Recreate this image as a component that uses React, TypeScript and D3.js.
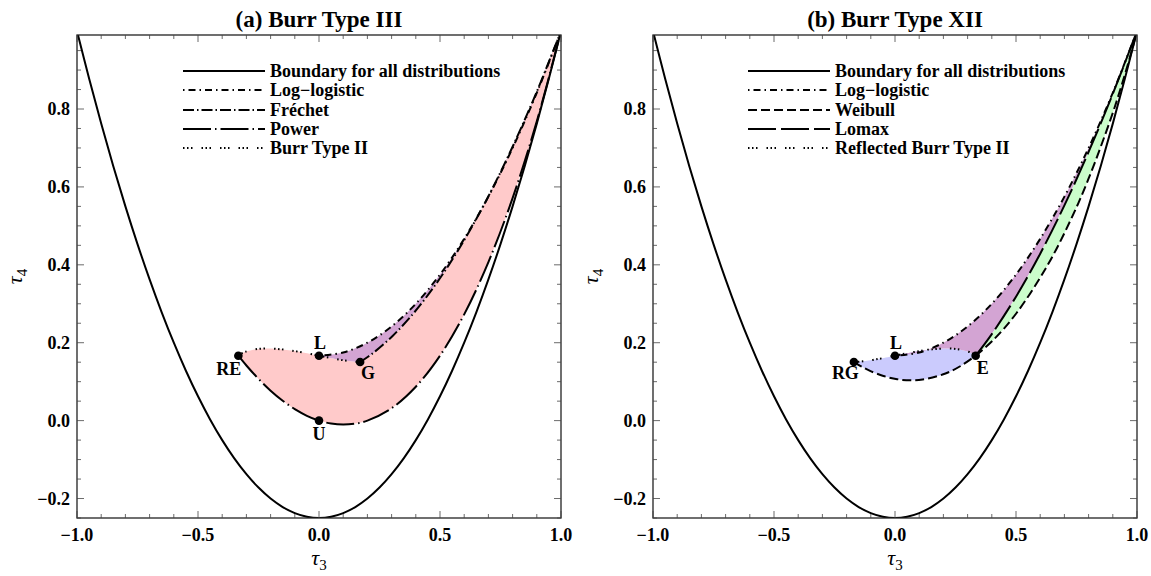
import React from "react";
import * as d3 from "d3";

// ---------- data ----------
const TAU3_TICKS = [-1, -0.5, 0, 0.5, 1];
const TAU3_TICK_LABELS = ["\u22121.0", "\u22120.5", "0.0", "0.5", "1.0"];
const TAU4_TICKS = [-0.2, 0, 0.2, 0.4, 0.6, 0.8];
const TAU4_TICK_LABELS = ["\u22120.2", "0.0", "0.2", "0.4", "0.6", "0.8"];

const BOUNDARY_T3 = [-1, -0.95, -0.9, -0.85, -0.8, -0.75, -0.7, -0.65, -0.6, -0.55, -0.5, -0.45, -0.4, -0.35, -0.3, -0.25, -0.2, -0.15, -0.1, -0.05, 0, 0.05, 0.1, 0.15, 0.2, 0.25, 0.3, 0.35, 0.4, 0.45, 0.5, 0.55, 0.6, 0.65, 0.7, 0.75, 0.8, 0.85, 0.9, 0.95, 1];
const BOUNDARY_T4 = [1, 0.878125, 0.7625, 0.653125, 0.55, 0.453125, 0.3625, 0.278125, 0.2, 0.128125, 0.0625, 0.003125, -0.05, -0.096875, -0.1375, -0.171875, -0.2, -0.221875, -0.2375, -0.246875, -0.25, -0.246875, -0.2375, -0.221875, -0.2, -0.171875, -0.1375, -0.096875, -0.05, 0.003125, 0.0625, 0.128125, 0.2, 0.278125, 0.3625, 0.453125, 0.55, 0.653125, 0.7625, 0.878125, 1];

const LOGLOGISTIC_T3 = [0, 0.1, 0.2, 0.3, 0.4, 0.5, 0.6, 0.7, 0.8, 0.9, 1];
const LOGLOGISTIC_T4 = [0.1667, 0.175, 0.2, 0.2417, 0.3, 0.375, 0.4667, 0.575, 0.7, 0.8417, 1];

const FRECHET_T3 = [0.1699, 0.2025, 0.2358, 0.3051, 0.3779, 0.4543, 0.5347, 0.619, 0.7075, 0.8004, 0.8978, 1];
const FRECHET_T4 = [0.1504, 0.164, 0.1797, 0.218, 0.2663, 0.3258, 0.3978, 0.4837, 0.5851, 0.7037, 0.8413, 1];

const POWER_T3 = [-0.3333, -0.3, -0.25, -0.2, -0.15, -0.1, -0.05, 0, 0.05, 0.1, 0.15, 0.2, 0.3, 0.4, 0.5, 0.6, 0.7, 0.8, 0.9, 1];
const POWER_T4 = [0.1667, 0.1415, 0.1071, 0.0769, 0.051, 0.0294, 0.0124, 0, -0.0076, -0.0102, -0.0077, 0, 0.0319, 0.087, 0.1667, 0.2727, 0.407, 0.5714, 0.7683, 1];

const BURR2_LEFT_T3 = [-0.3333, -0.3245, -0.3041, -0.2516, -0.1991, -0.1531, -0.1146, -0.0563, 0];
const BURR2_LEFT_T4 = [0.1667, 0.1707, 0.1768, 0.184, 0.185, 0.1829, 0.1798, 0.1736, 0.1667];
const BURR2_RIGHT_T3 = [0, 0.0518, 0.08, 0.1094, 0.1335, 0.1517, 0.1699];
const BURR2_RIGHT_T4 = [0.1667, 0.1603, 0.1571, 0.1542, 0.1523, 0.1512, 0.1504];

const RBURR2_LEFT_T3 = [-0.1699, -0.1517, -0.1335, -0.1094, -0.08, -0.0518, 0];
const RBURR2_LEFT_T4 = [0.1504, 0.1512, 0.1523, 0.1542, 0.1571, 0.1603, 0.1667];
const RBURR2_RIGHT_T3 = [0, 0.0563, 0.1146, 0.1531, 0.1991, 0.2516, 0.3041, 0.3245, 0.3333];
const RBURR2_RIGHT_T4 = [0.1667, 0.1736, 0.1798, 0.1829, 0.185, 0.184, 0.1768, 0.1707, 0.1667];

const WEIBULL_LOW_T3 = [-0.1699, -0.1382, -0.1073, -0.0477, 0.009, 0.0628, 0.114, 0.2086, 0.2734, 0.3333];
const WEIBULL_LOW_T4 = [0.1504, 0.1388, 0.1289, 0.1145, 0.1063, 0.1034, 0.1054, 0.121, 0.1411, 0.1667];
const WEIBULL_HIGH_T3 = [0.3333, 0.4061, 0.5016, 0.6296, 0.7264, 0.7989, 0.893, 0.944, 0.9852, 1];
const WEIBULL_HIGH_T4 = [0.1667, 0.2069, 0.2756, 0.3981, 0.5158, 0.6197, 0.7775, 0.8762, 0.9649, 1];

const LOMAX_T3 = [0.3333, 0.4, 0.5, 0.6, 0.7, 0.8, 0.9, 1];
const LOMAX_T4 = [0.1667, 0.2222, 0.3182, 0.4286, 0.5526, 0.6897, 0.839, 1];

const POINTS_A_NAMES = ["RE", "L", "G", "U"];
const POINTS_A_T3 = [-0.3333, 0, 0.1699, 0];
const POINTS_A_T4 = [0.1667, 0.1667, 0.1504, 0];
const POINTS_B_NAMES = ["RG", "L", "E"];
const POINTS_B_T3 = [-0.1699, 0, 0.3333];
const POINTS_B_T4 = [0.1504, 0.1667, 0.1667];

const LEGEND_A = ["Boundary for all distributions", "Log\u2212logistic", "Fr\u00e9chet", "Power", "Burr Type II"];
const LEGEND_B = ["Boundary for all distributions", "Log\u2212logistic", "Weibull", "Lomax", "Reflected Burr Type II"];

// ---------- styling ----------
const FONT = "'Liberation Serif', 'Times New Roman', serif";
const DASH: Record<string, string> = {
  boundary: "none",
  loglogistic: "1.5,4,7,4",
  frechet: "11,3,1.5,3",
  power: "28,4,1.5,4",
  burr2: "1.5,2.5,1.5,2.5,1.5,9",
  weibull: "9,4",
  lomax: "28,5",
};
const PINK = "#ffcaca";
const PURPLE = "#d3a4d3";
const BLUE = "#cbcbfd";
const GREEN = "#cbfdcb";

type Pt = [number, number];
const zip = (a: number[], b: number[]): Pt[] => a.map((v, i) => [v, b[i]] as Pt);

const W = 1151;
const H = 576;
const yScale = d3.scaleLinear().domain([-0.25, 0.99]).range([518, 35]);

function Panel({ x0, title, legend, legendKeys, panelId, b }: any) {
  const x = d3.scaleLinear().domain([-1, 1]).range([x0, x0 + 484]);
  const line = d3
    .line<Pt>()
    .x((d) => x(d[0]))
    .y((d) => yScale(d[1]))
    .curve(d3.curveCatmullRom.alpha(0.5));
  const rev = (p: Pt[]) => p.slice().reverse();
  const region = (segs: Pt[][]) =>
    segs.map((s, i) => (i === 0 ? line(s)! : line(s)!.replace(/^M/, "L"))).join("") + "Z";

  const boundary = zip(BOUNDARY_T3, BOUNDARY_T4);
  const loglog = zip(LOGLOGISTIC_T3, LOGLOGISTIC_T4);

  let regions: { d: string; fill: string }[] = [];
  let curves: { d: string; dash: string; w: number }[] = [];
  let names: string[], pt3: number[], pt4: number[];

  if (!b) {
    const frechet = zip(FRECHET_T3, FRECHET_T4);
    const power = zip(POWER_T3, POWER_T4);
    const bl = zip(BURR2_LEFT_T3, BURR2_LEFT_T4);
    const br = zip(BURR2_RIGHT_T3, BURR2_RIGHT_T4);
    regions = [
      { d: region([bl, br, frechet, rev(power)]), fill: PINK },
      { d: region([loglog, rev(frechet), rev(br)]), fill: PURPLE },
    ];
    curves = [
      { d: line(power)!, dash: DASH.power, w: 2 },
      { d: line(frechet)!, dash: DASH.frechet, w: 2 },
      { d: line(loglog)!, dash: DASH.loglogistic, w: 2 },
      { d: line(bl)!, dash: DASH.burr2, w: 2 },
      { d: line(br)!, dash: DASH.burr2, w: 2 },
    ];
    names = POINTS_A_NAMES;
    pt3 = POINTS_A_T3;
    pt4 = POINTS_A_T4;
  } else {
    const wl = zip(WEIBULL_LOW_T3, WEIBULL_LOW_T4);
    const wh = zip(WEIBULL_HIGH_T3, WEIBULL_HIGH_T4);
    const lomax = zip(LOMAX_T3, LOMAX_T4);
    const rl = zip(RBURR2_LEFT_T3, RBURR2_LEFT_T4);
    const rr = zip(RBURR2_RIGHT_T3, RBURR2_RIGHT_T4);
    regions = [
      { d: region([rl, rr, rev(wl)]), fill: BLUE },
      { d: region([loglog, rev(lomax), rev(rr)]), fill: PURPLE },
      { d: region([lomax, rev(wh)]), fill: GREEN },
    ];
    curves = [
      { d: line(wl)!, dash: DASH.weibull, w: 2 },
      { d: line(wh)!, dash: DASH.weibull, w: 2 },
      { d: line(lomax)!, dash: DASH.lomax, w: 2 },
      { d: line(loglog)!, dash: DASH.loglogistic, w: 2 },
      { d: line(rl)!, dash: DASH.burr2, w: 2 },
      { d: line(rr)!, dash: DASH.burr2, w: 2 },
    ];
    names = POINTS_B_NAMES;
    pt3 = POINTS_B_T3;
    pt4 = POINTS_B_T4;
  }

  const labelOffset: Record<string, [number, number, string]> = {
    RE: [3, 19, "end"],
    L: [1, -7, "middle"],
    G: [1, 17, "start"],
    U: [0, 19, "middle"],
    RG: [5, 17, "end"],
    E: [1, 18, "start"],
  };

  const xMinor = d3.range(-10, 11).map((i) => i / 10);
  const yMinor = d3.range(-5, 20).map((i) => i / 20);
  const top = 35;
  const bottom = 518;
  const left = x0;
  const right = x0 + 484;
  const legendRows = [71, 90, 110, 129, 148];
  const lx = b ? 748 : 183;

  return (
    <g>
      <defs>
        <clipPath id={panelId}>
          <rect x={left} y={top} width={right - left} height={bottom - top} />
        </clipPath>
      </defs>
      <g clipPath={`url(#${panelId})`}>
        {regions.map((r, i) => (
          <path key={i} d={r.d} fill={r.fill} stroke="none" />
        ))}
        <path d={line(boundary)!} fill="none" stroke="#000" strokeWidth={2} />
        {curves.map((c, i) => (
          <path key={i} d={c.d} fill="none" stroke="#000" strokeWidth={c.w} strokeDasharray={c.dash} />
        ))}
      </g>
      {names.map((n, i) => {
        const px = x(pt3[i]);
        const py = yScale(pt4[i]);
        const o = labelOffset[n];
        return (
          <g key={n}>
            <circle cx={px} cy={py} r={4.3} fill="#000" />
            <text x={px + o[0]} y={py + o[1]} textAnchor={o[2] as any} fontFamily={FONT} fontWeight="bold" fontSize={18}>
              {n}
            </text>
          </g>
        );
      })}
      {/* frame */}
      <rect x={left} y={top} width={right - left} height={bottom - top} fill="none" stroke="#222" strokeWidth={1.3} />
      {xMinor.map((v, i) => {
        const major = Math.abs(v * 2 - Math.round(v * 2)) < 1e-6;
        const len = major ? 7 : 4;
        return (
          <g key={"xt" + i}>
            <line x1={x(v)} x2={x(v)} y1={bottom} y2={bottom - len} stroke="#444" strokeWidth={0.8} />
            <line x1={x(v)} x2={x(v)} y1={top} y2={top + len} stroke="#444" strokeWidth={0.8} />
          </g>
        );
      })}
      {yMinor.map((v, i) => {
        const major = Math.abs(v * 5 - Math.round(v * 5)) < 1e-6;
        const len = major ? 7 : 4;
        return (
          <g key={"yt" + i}>
            <line x1={left} x2={left + len} y1={yScale(v)} y2={yScale(v)} stroke="#444" strokeWidth={0.8} />
            <line x1={right} x2={right - len} y1={yScale(v)} y2={yScale(v)} stroke="#444" strokeWidth={0.8} />
          </g>
        );
      })}
      {TAU3_TICKS.map((v, i) => (
        <text key={"xl" + i} x={x(v)} y={541} textAnchor="middle" fontFamily={FONT} fontWeight="bold" fontSize={18}>
          {TAU3_TICK_LABELS[i]}
        </text>
      ))}
      {TAU4_TICKS.map((v, i) => (
        <text key={"yl" + i} x={left - 7} y={yScale(v) + 6} textAnchor="end" fontFamily={FONT} fontWeight="bold" fontSize={18}>
          {TAU4_TICK_LABELS[i]}
        </text>
      ))}
      <text x={x(0)} y={565} textAnchor="middle" fontFamily={FONT} fontStyle="italic" fontSize={22}>
        τ<tspan dy={5} fontSize={15} fontStyle="normal">3</tspan>
      </text>
      <text transform={`translate(${left - 55},${yScale(0.37)}) rotate(-90)`} textAnchor="middle" fontFamily={FONT} fontStyle="italic" fontSize={22}>
        τ<tspan dy={5} fontSize={15} fontStyle="normal">4</tspan>
      </text>
      <text x={x(0)} y={27} textAnchor="middle" fontFamily={FONT} fontWeight="bold" fontSize={23}>
        {title}
      </text>
      {legend.map((t: string, i: number) => (
        <g key={"lg" + i}>
          <line x1={lx} x2={lx + 82} y1={legendRows[i]} y2={legendRows[i]} stroke="#000" strokeWidth={2} strokeDasharray={DASH[legendKeys[i]]} />
          <text x={lx + 87} y={legendRows[i] + 6} fontFamily={FONT} fontWeight="bold" fontSize={18}>
            {t}
          </text>
        </g>
      ))}
    </g>
  );
}

export default function App() {
  return (
    <svg width={W} height={H} style={{ position: "absolute", left: 0, top: 0, background: "#fff" }}>
      <rect width={W} height={H} fill="#fff" />
      <Panel x0={77} title="(a) Burr Type III" legend={LEGEND_A} legendKeys={["boundary", "loglogistic", "frechet", "power", "burr2"]} panelId="clipA" b={false} />
      <Panel x0={653} title="(b) Burr Type XII" legend={LEGEND_B} legendKeys={["boundary", "loglogistic", "weibull", "lomax", "burr2"]} panelId="clipB" b={true} />
    </svg>
  );
}
